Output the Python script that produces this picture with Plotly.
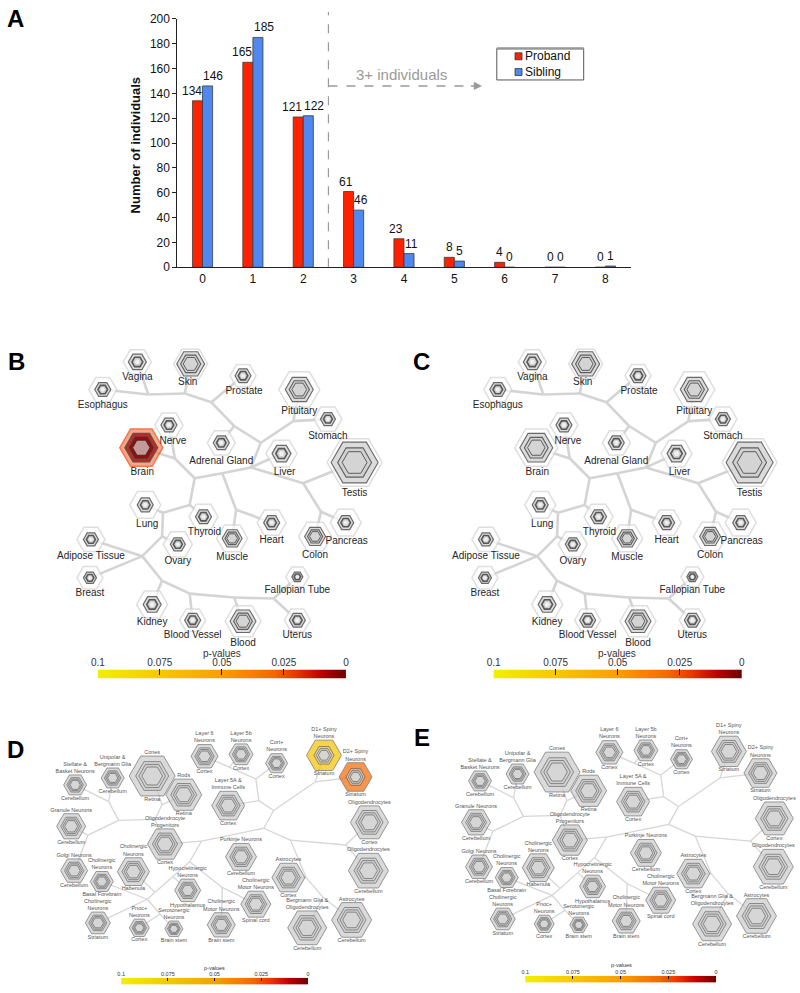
import numpy as np
import plotly.graph_objects as go
from plotly.colors import sample_colorscale

# ================= DATA =================
# ---- Panel A: number of individuals by number of de novo variants ----
dnv_counts = ["0", "1", "2", "3", "4", "5", "6", "7", "8"]
proband = [134, 165, 121, 61, 23, 8, 4, 0, 0]
sibling = [146, 185, 122, 46, 11, 5, 0, 0, 1]
series_names = ["Proband", "Sibling"]

# ---- Panels B / C: GTEx tissue specificity (hexagon set sizes) ----
tissues = ["Vagina", "Skin", "Prostate", "Esophagus", "Pituitary", "Stomach", "Nerve", "Brain",
           "Adrenal Gland", "Liver", "Testis", "Lung", "Thyroid", "Heart", "Pancreas", "Muscle",
           "Colon", "Adipose Tissue", "Ovary", "Breast", "Fallopian Tube", "Kidney",
           "Blood Vessel", "Blood", "Uterus"]
tissue_outer_set = [28, 34, 26, 28, 41, 28, 28, 43, 28, 31, 55, 31, 29, 29, 31, 31, 33, 28, 29, 26, 23, 31, 26, 36, 26]
tissue_inner_set = [18, 28, 16, 16, 28, 15, 16, 33, 16, 19, 47, 16, 16, 16, 16, 20, 21, 15, 15, 13, 11, 18, 16, 26, 16]
# enrichment p-values per specificity level (outer -> inner), only significant ones
proband_tissue_p = {"Brain": [0.022, 0.004, 0.004]}
sibling_tissue_p = {}

# ---- Panels D / E: brain cell types ----
cell_ids = ["stel", "unip", "cones", "rods", "l6", "l5b", "cort", "d1", "d2", "l5a", "gran", "opc",
            "olcx", "purk", "olcb", "golgi", "chhab", "chbf", "hypo", "astcx", "mnsc", "chstr",
            "pnoc", "sero", "mnbs", "berg", "astcb"]
cell_types = ["Stellate &<br>Basket Neurons", "Unipolar &<br>Bergmann Glia", "Cones", "Rods",
              "Layer 6<br>Neurons", "Layer 5b<br>Neurons", "Cort+<br>Neurons", "D1+ Spiny<br>Neurons",
              "D2+ Spiny<br>Neurons", "Layer 5A &<br>Immune Cells", "Granule Neurons",
              "Oligodendrocyte<br>Progenitors", "Oligodendrocytes", "Purkinje Neurons",
              "Oligodendrocytes", "Golgi Neurons", "Cholinergic<br>Neurons", "Cholinergic<br>Neurons",
              "Hypocretinergic<br>Neurons", "Astrocytes", "Cholinergic<br>Motor Neurons",
              "Cholinergic<br>Neurons", "Pnoc+<br>Neurons", "Serotonergic<br>Neurons",
              "Cholinergic<br>Motor Neurons", "Bergmann Glia &<br>Oligodendrocytes", "Astrocytes"]
cell_regions = ["Cerebellum", "Cerebellum", "Retina", "Retina", "Cortex", "Cortex", "Cortex",
                "Striatum", "Striatum", "Cortex", "Cerebellum", "Cortex", "Cortex", "Cerebellum",
                "Cerebellum", "Cerebellum", "Habenula", "Basal Forebrain", "Hypothalamus", "Cortex",
                "Spinal cord", "Striatum", "Cortex", "Brain stem", "Brain stem", "Cerebellum",
                "Cerebellum"]
cell_set_size = [23, 23, 46, 36, 27, 24, 22, 35, 33, 33, 29, 35, 38, 31, 40, 27, 32, 23, 26, 33,
                 30, 25, 20, 18, 28, 39, 40]
proband_cell_p = {"d1": 0.072, "d2": 0.03}
sibling_cell_p = {}

pval_ticks = [0.1, 0.075, 0.05, 0.025, 0]
pval_ticktext = ["0.1", "0.075", "0.05", "0.025", "0"]

# ================= LAYOUT GEOMETRY (page pixels) =================
tissue_xy = {
    "Vagina": (132, 360), "Skin": (186, 362), "Prostate": (239, 374), "Esophagus": (97, 388),
    "Pituitary": (296, 388), "Stomach": (325, 418), "Nerve": (164, 424), "Brain": (136, 447),
    "Adrenal Gland": (217, 442), "Liver": (278, 453), "Testis": (352, 462), "Lung": (140, 505),
    "Thyroid": (199, 517), "Heart": (268, 523), "Pancreas": (343, 523), "Muscle": (228, 539),
    "Colon": (312, 537), "Adipose Tissue": (85, 540), "Ovary": (173, 545), "Breast": (84, 579),
    "Fallopian Tube": (294, 578), "Kidney": (147, 606), "Blood Vessel": (188, 622),
    "Blood": (239, 623), "Uterus": (294, 622)}
tissue_label_xy = {
    "Vagina": (132, 376), "Skin": (183, 381), "Prostate": (240, 390), "Esophagus": (97, 404),
    "Pituitary": (296, 410), "Stomach": (325, 436), "Nerve": (168, 441), "Brain": (137, 472),
    "Adrenal Gland": (217, 461), "Liver": (281, 472), "Testis": (352, 493), "Lung": (142, 525),
    "Thyroid": (200, 533), "Heart": (268, 541), "Pancreas": (344, 542), "Muscle": (228, 558),
    "Colon": (312, 556), "Adipose Tissue": (85, 557), "Ovary": (173, 562), "Breast": (84, 595),
    "Fallopian Tube": (294, 592), "Kidney": (147, 624), "Blood Vessel": (188, 637),
    "Blood": (239, 646), "Uterus": (294, 637)}
tissue_junctions = {
    "jVag": (143, 393), "jSkin": (180, 392), "jPros": (207, 401), "jAdr": (230, 425),
    "jPit": (257, 442), "jPS": (290, 420), "jLiv": (247, 467), "jTest": (300, 483),
    "jPan": (318, 512), "jMid": (218, 473), "jHeart": (232, 510), "jLeft": (190, 478),
    "jBrain": (170, 458), "jThy": (185, 505), "jLung": (158, 513), "jOva": (157, 537),
    "jAdi": (137, 557), "jKid": (157, 582), "jBV": (185, 595), "jBlood": (230, 599),
    "jFal": (270, 600)}
tissue_edges = [
    ("Esophagus", "jVag"), ("Vagina", "jVag"), ("jVag", "jSkin"), ("Skin", "jSkin"),
    ("jSkin", "jPros"), ("Prostate", "jPros"), ("jPros", "jAdr"), ("Adrenal Gland", "jAdr"),
    ("jAdr", "jPit"), ("jPit", "jPS"), ("Pituitary", "jPS"), ("Stomach", "jPS"),
    ("jPit", "jLiv"), ("Liver", "jLiv"), ("jLiv", "jTest"), ("Testis", "jTest"),
    ("jTest", "jPan"), ("Pancreas", "jPan"), ("Colon", "jPan"), ("jLiv", "jMid"),
    ("jMid", "jHeart"), ("Heart", "jHeart"), ("Muscle", "jHeart"), ("jMid", "jLeft"),
    ("jLeft", "jBrain"), ("Brain", "jBrain"), ("Nerve", "jBrain"), ("jLeft", "jThy"),
    ("Thyroid", "jThy"), ("jThy", "jLung"), ("Lung", "jLung"), ("jLung", "jOva"),
    ("Ovary", "jOva"), ("jOva", "jAdi"), ("Adipose Tissue", "jAdi"), ("Breast", "jAdi"),
    ("jAdi", "jKid"), ("Kidney", "jKid"), ("jKid", "jBV"), ("Blood Vessel", "jBV"),
    ("jBV", "jBlood"), ("Blood", "jBlood"), ("jBlood", "jFal"), ("Fallopian Tube", "jFal"),
    ("Uterus", "jFal")]

cell_xy = {
    "stel": (69, 789), "unip": (107, 782), "cones": (147, 780), "rods": (179, 799),
    "l6": (200, 760), "l5b": (237, 758), "cort": (273, 767), "d1": (321, 759), "d2": (353, 781),
    "l5a": (224, 810), "gran": (65, 831), "opc": (160, 849), "olcx": (367, 827),
    "purk": (237, 862), "olcb": (366, 876), "golgi": (68, 876), "chhab": (128, 877),
    "chbf": (96, 887), "hypo": (183, 896), "astcx": (285, 883), "mnsc": (252, 910),
    "chstr": (92, 929), "pnoc": (134, 934), "sero": (169, 935), "mnbs": (217, 931),
    "berg": (304, 934), "astcb": (349, 926)}
cell_junctions = {
    "jL6": (225, 771), "jL": (252, 783), "j5A": (255, 805), "jA": (270, 815), "jS": (312, 786),
    "jB": (260, 833), "jC": (287, 845), "jO": (343, 850), "jA1": (303, 883), "jA2": (320, 903),
    "jD": (197, 846), "jR": (150, 824), "jR0": (157, 809), "jU": (103, 806), "jP": (113, 825),
    "jG": (82, 840), "jE": (185, 867), "jM": (218, 893), "jHy": (168, 882), "jH": (150, 898),
    "jH2": (142, 905), "jSe": (155, 920)}
cell_edges = [
    ("l6", "jL6"), ("l5b", "jL6"), ("jL6", "jL"), ("cort", "jL"), ("jL", "j5A"), ("l5a", "j5A"),
    ("j5A", "jA"), ("jA", "jS"), ("d1", "jS"), ("d2", "jS"), ("jA", "jB"), ("jB", "jC"),
    ("jC", "jO"), ("olcx", "jO"), ("olcb", "jO"), ("jC", "jA1"), ("astcx", "jA1"),
    ("jA1", "jA2"), ("berg", "jA2"), ("jA2", "astcb"), ("jB", "jD"), ("opc", "jD"),
    ("opc", "jR"), ("jR", "jP"), ("cones", "jR0"), ("rods", "jR0"), ("jR0", "jR"),
    ("stel", "jU"), ("unip", "jU"), ("jU", "jP"), ("jP", "jG"), ("gran", "jG"), ("golgi", "jG"),
    ("jD", "jE"), ("jE", "jM"), ("mnsc", "jM"), ("mnbs", "jM"), ("jE", "jHy"), ("hypo", "jHy"),
    ("jHy", "jH"), ("chhab", "jH"), ("jH", "jH2"), ("chbf", "jH2"), ("chstr", "jH2"),
    ("jH2", "jSe"), ("pnoc", "jSe"), ("jSe", "sero")]

# ================= STYLE =================
PV_SCALE = [[0.0, "#6e0000"], [0.1, "#bf0000"], [0.2, "#ec3500"], [0.3, "#f46a00"],
            [0.5, "#f6a000"], [0.75, "#f6c800"], [1.0, "#f3ef00"]]
NARROW = "Liberation Sans Narrow, Arial Narrow, Liberation Sans, Arial, sans-serif"
SANS = "Liberation Sans, Arial, sans-serif"
BAR_COLORS = ["#ff2200", "#4f88f0"]


def pcolor(p, blend=0.0):
    c = sample_colorscale(PV_SCALE, [min(max(p / 0.1, 0.0), 1.0)])[0]
    r, g, b = [float(v) for v in c[c.index("(") + 1:c.index(")")].split(",")]
    r, g, b = [v + (255 - v) * blend for v in (r, g, b)]
    return f"rgb({int(r)},{int(g)},{int(b)})"


fig = go.Figure()

# ================= PANEL A =================
ann = []
for s, (name, vals) in enumerate(zip(series_names, [proband, sibling])):
    fig.add_trace(go.Bar(x=dnv_counts, y=vals, name=name, showlegend=False,
                         marker=dict(color=BAR_COLORS[s], line=dict(color="#3a3a3a", width=0.8))))
    side = -1 if s == 0 else 1
    for cat, v in zip(dnv_counts, vals):
        w = 6.6 * len(str(v))
        shift = side * (5 + max(w / 2 - 5, 0) + (1 if w > 7 else 0))
        ann.append(dict(text=str(v), x=cat, y=v, xref="x", yref="y", showarrow=False,
                        xshift=shift, yanchor="bottom", yshift=1,
                        font=dict(size=12, color="#111", family=NARROW)))

# manual legend box (as in the original figure)
legend_y = [50, 66]
for s, name in enumerate(series_names):
    fig.add_trace(go.Scatter(x=[518], y=[legend_y[s]], mode="markers", xaxis="x2", yaxis="y2",
                             hoverinfo="skip", showlegend=False,
                             marker=dict(symbol="square", size=7, color=BAR_COLORS[s],
                                         line=dict(color="#333", width=0.8))))
    ann.append(dict(text=name, x=523, y=legend_y[s], xref="x2", yref="y2", showarrow=False,
                    xanchor="left", font=dict(size=12, family=NARROW, color="#111")))

OV = dict(xaxis="x2", yaxis="y2", hoverinfo="skip", showlegend=False)


def tree_trace(edges, pos, dx, dy, color, width):
    xs, ys = [], []
    for a, b in edges:
        (x0, y0), (x1, y1) = pos[a], pos[b]
        xs += [x0 + dx, x1 + dx, None]
        ys += [y0 + dy, y1 + dy, None]
    return go.Scatter(x=xs, y=ys, mode="lines", line=dict(color=color, width=width), **OV)


def hex_levels_tissue(i, sig):
    S, G = tissue_outer_set[i], tissue_inner_set[i]
    if G >= 20:
        sizes = [S, G, 0.72 * G, 0.53 * G]
        fills = ["#ffffff", "#cdcdcd", "#cdcdcd", "#d6d6d6"]
        lines = ["#d2d2d2", "#2b2b2b", "#2b2b2b", "#2b2b2b"]
        widths = [1.5, 1.1, 1.1, 1.0]
    else:
        sizes = [S, G, 0.6 * G, 0.28 * G]
        fills = ["#ffffff", "#cdcdcd", "#cdcdcd", "#ffffff"]
        lines = ["#d2d2d2", "#2b2b2b", "#222222", "rgba(0,0,0,0)"]
        widths = [1.5, 1.2, 1.6, 0]
    name = tissues[i]
    if name in sig:
        for k, p in enumerate(sig[name]):
            fills[k] = pcolor(p, 0.35 if k == 0 else 0.0)
            if k == 0:
                lines[k] = pcolor(p)
    return sizes, fills, lines, widths


def draw_tissue_panel(dx, sig):
    fig.add_trace(tree_trace(tissue_edges, {**tissue_xy, **tissue_junctions}, dx, 0, "#d4d4d4", 2.6))
    levels = [hex_levels_tissue(i, sig) for i in range(len(tissues))]
    for k in range(4):
        fig.add_trace(go.Scatter(
            x=[tissue_xy[t][0] + dx for t in tissues], y=[tissue_xy[t][1] for t in tissues],
            mode="markers",
            marker=dict(symbol="hexagon2", size=[lv[0][k] for lv in levels],
                        color=[lv[1][k] for lv in levels],
                        line=dict(color=[lv[2][k] for lv in levels],
                                  width=[lv[3][k] for lv in levels])), **OV))
    fig.add_trace(go.Scatter(
        x=[tissue_label_xy[t][0] + dx for t in tissues], y=[tissue_label_xy[t][1] for t in tissues],
        mode="text", text=tissues, textposition="middle center",
        textfont=dict(size=10, color="#262626", family=SANS), **OV))


def draw_cell_panel(dx, dy, sig):
    fig.add_trace(tree_trace(cell_edges, {**cell_xy, **cell_junctions}, dx, dy, "#d6d6d6", 1.3))
    xs = [cell_xy[c][0] + dx for c in cell_ids]
    ys = [cell_xy[c][1] + dy for c in cell_ids]
    fr_norm = [1.0, 0.72, 0.58, 0.45]
    fr_sig = [1.0, 0.58, 0.44, 0.32]
    fills_norm = ["#cbcbcb", "#cfcfcf", "#cfcfcf", "#dadada"]
    for k in range(4):
        sizes, fills = [], []
        for j, c in enumerate(cell_ids):
            S = cell_set_size[j]
            if c in sig:
                sizes.append(S * fr_sig[k])
                fills.append(pcolor(sig[c]) if k == 0 else fills_norm[k])
            else:
                sizes.append(S * fr_norm[k])
                fills.append(fills_norm[k])
        fig.add_trace(go.Scatter(x=xs, y=ys, mode="markers",
                                 marker=dict(symbol="hexagon2", size=sizes, color=fills,
                                             line=dict(color="#4a4a4a", width=0.8)), **OV))
    top_y = [y - 0.433 * s - 1 for y, s in zip(ys, cell_set_size)]
    bot_y = [y + 0.433 * s + 1 for y, s in zip(ys, cell_set_size)]
    fig.add_trace(go.Scatter(x=xs, y=top_y, mode="text", text=cell_types, textposition="top center",
                             marker=dict(size=1),
                             textfont=dict(size=5.5, color="#555555", family=NARROW), **OV))
    fig.add_trace(go.Scatter(x=xs, y=bot_y, mode="text", text=cell_regions,
                             textposition="bottom center", marker=dict(size=1),
                             textfont=dict(size=5.5, color="#555555", family=NARROW), **OV))


draw_tissue_panel(0, proband_tissue_p)
draw_tissue_panel(400, sibling_tissue_p)
draw_cell_panel(0, 0, proband_cell_p)
draw_cell_panel(410, -4, sibling_cell_p)

# ================= P-VALUE COLOR BARS =================
pgrid = np.linspace(0.1, 0.0, 121)
cbars = [  # (axis index, x domain, y domain, tick font size)
    (3, [0.115, 0.429], [0.3142, 0.3233], 10),
    (4, [0.616, 0.930], [0.3142, 0.3233], 10),
    (5, [0.1445, 0.381], [0.0015, 0.0085], 5.5),
    (6, [0.656, 0.8975], [0.0035, 0.0105], 5.5),
]
axes_layout = {}
for idx, xd, yd, fs in cbars:
    fig.add_trace(go.Heatmap(x=pgrid, y=[0], z=[pgrid], colorscale=PV_SCALE, zmin=0, zmax=0.1,
                             showscale=False, hoverinfo="skip",
                             xaxis=f"x{idx}", yaxis=f"y{idx}"))
    axes_layout[f"xaxis{idx}"] = dict(domain=xd, anchor=f"y{idx}", range=[0.1, 0], side="top",
                                      tickvals=pval_ticks, ticktext=pval_ticktext,
                                      ticks="inside", ticklen=6 if fs > 8 else 3,
                                      tickwidth=1.2 if fs > 8 else 0.8, tickcolor="#111",
                                      tickfont=dict(size=fs, color="#333", family=SANS),
                                      showgrid=False, zeroline=False, showline=False,
                                      fixedrange=True)
    axes_layout[f"yaxis{idx}"] = dict(domain=yd, anchor=f"x{idx}", range=[-0.5, 0.5],
                                      visible=False, fixedrange=True)

# ================= ANNOTATIONS =================
for txt, x, y in [("A", 9, 12), ("B", 10, 360), ("C", 420, 360), ("D", 9, 753), ("E", 420, 741)]:
    ann.append(dict(text=f"<b>{txt}</b>", x=x, y=y, xref="x2", yref="y2", showarrow=False,
                    font=dict(size=24, color="#000", family=SANS)))
for x, y, fs in [(218, 656, 10), (618, 656, 10), (210, 975, 5.5), (622, 972, 5.5)]:
    ann.append(dict(text="p-values", x=x, y=y, xref="x2", yref="y2", showarrow=False,
                    font=dict(size=fs, color="#333", family=SANS)))
ann.append(dict(text="<b>Number of individuals</b>", x=130, y=140, xref="x2", yref="y2",
                textangle=-90, showarrow=False, font=dict(size=13, color="#111", family=SANS)))
ann.append(dict(text="3+ individuals", x=3.95, y=155, xref="x", yref="y", showarrow=False,
                font=dict(size=15, color="#9a9a9a", family=NARROW)))
ann.append(dict(text="", x=5.55, y=146, ax=5.3, ay=146, xref="x", yref="y", axref="x",
                ayref="y", showarrow=True, arrowhead=2, arrowsize=1.1, arrowwidth=1.5,
                arrowcolor="#9a9a9a"))

shapes = [
    dict(type="line", xref="x", yref="paper", x0=2.5, x1=2.5, y0=1 - 264 / 993, y1=1 - 5 / 993,
         line=dict(color="#9a9a9a", width=1.2, dash="dash")),
    dict(type="line", xref="x", yref="y", x0=2.5, x1=5.35, y0=146, y1=146,
         line=dict(color="#9a9a9a", width=1.5, dash="dash")),
    # legend frame
    dict(type="rect", xref="x2", yref="y2", x0=496, x1=584, y0=42, y1=74,
         line=dict(color="#555", width=1), fillcolor="rgba(0,0,0,0)"),
    dict(type="line", xref="x2", yref="y2", x0=496, x1=584, y0=42, y1=42,
         line=dict(color="#999", width=2.5)),
]

fig.update_layout(
    width=800, height=993, margin=dict(l=0, r=0, t=0, b=0),
    paper_bgcolor="white", plot_bgcolor="rgba(0,0,0,0)",
    barmode="group", bargap=0.6, bargroupgap=0.0,
    font=dict(family=SANS, color="#111"),
    showlegend=False,
    xaxis=dict(domain=[172.5 / 800, 631.5 / 800], anchor="y", range=[-0.5, 8.5],
               type="category", showline=True, linecolor="#222", linewidth=1, ticks="",
               tickfont=dict(size=12, family=NARROW, color="#111"), showgrid=False,
               fixedrange=True),
    yaxis=dict(domain=[1 - 264 / 993, 1 - 12 / 993], anchor="x", range=[0, 200], dtick=20,
               showline=True, linecolor="#222", linewidth=1, ticks="outside", ticklen=4,
               tickcolor="#222", tickfont=dict(size=12, family=NARROW, color="#111"),
               showgrid=False, zeroline=False, fixedrange=True),
    xaxis2=dict(domain=[0, 1], anchor="y2", range=[0, 800], visible=False, fixedrange=True),
    yaxis2=dict(domain=[0, 1], anchor="x2", range=[993, 0], visible=False, fixedrange=True),
    annotations=ann, shapes=shapes,
    **axes_layout,
)

fig.write_html("out.html", config={"displayModeBar": False},
               post_script="document.body.style.margin='0';document.body.style.overflow='hidden';")
